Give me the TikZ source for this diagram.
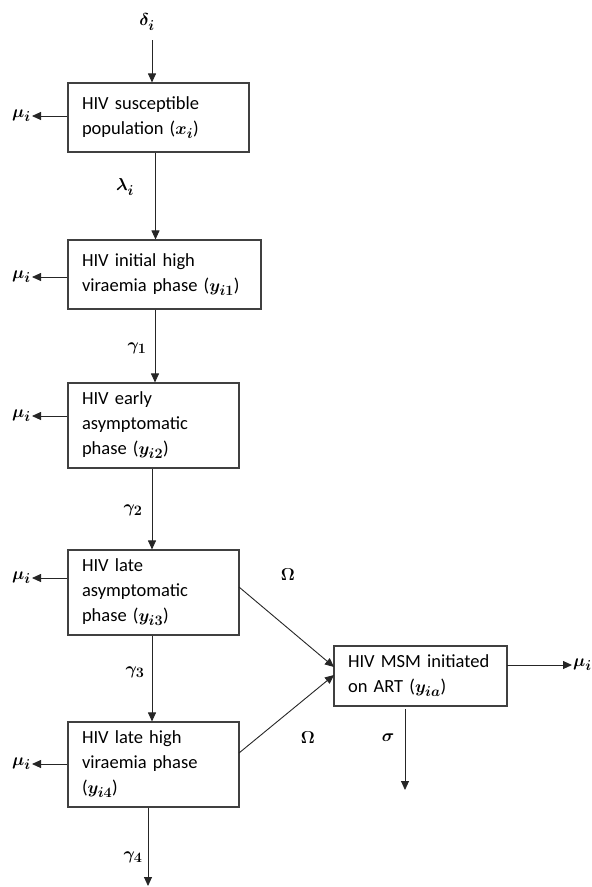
\documentclass[tikz,border=0pt]{standalone}
\usepackage{fontspec}
\usepackage{amsmath}
\usepackage{bm}
\setmainfont{Carlito}
\DeclareMathSizes{18.5}{18.5}{14.5}{11}
\DeclareMathSizes{19}{19}{15}{11}
\usetikzlibrary{arrows.meta}
\begin{document}
\begin{tikzpicture}[x=1pt,y=-1pt,
  box/.style={draw=black!75,line width=1.1pt,rectangle,inner xsep=14pt,inner ysep=0pt,
     align=left,font=\fontsize{18.5}{25}\selectfont,anchor=center},
  arr/.style={draw=black!85,line width=0.9pt,-{Triangle[length=9pt,width=8pt]}},
  lab/.style={inner sep=1pt,font=\fontsize{19}{21}\selectfont}]
\useasboundingbox (0,0) rectangle (592,887);
% boxes
\node[box,minimum width=181pt,minimum height=69pt,text width=153pt] (b1) at (158.5,117.5)
  {HIV susceptible\\population ($\bm{x_i}$)};
\node[box,minimum width=193pt,minimum height=69pt,text width=165pt] (b2) at (164.5,274.5)
  {HIV initial high\\viraemia phase ($\bm{y_{i1}}$)};
\node[box,minimum width=171pt,minimum height=85pt,text width=143pt] (b3) at (153.5,425.5)
  {HIV early\\asymptomatic\\phase ($\bm{y_{i2}}$)};
\node[box,minimum width=171pt,minimum height=85pt,text width=143pt] (b4) at (153.5,592.5)
  {HIV late\\asymptomatic\\phase ($\bm{y_{i3}}$)};
\node[box,minimum width=171pt,minimum height=85pt,text width=143pt] (b5) at (153.5,764.5)
  {HIV late high\\viraemia phase\\($\bm{y_{i4}}$)};
\node[box,minimum width=173pt,minimum height=60pt,text width=145pt] (art) at (420.5,676)
  {HIV MSM initiated\\on ART ($\bm{y_{ia}}$)};
% rate labels
\node[lab] (delta) at (147,22) {$\bm{\delta_i}$};
\node[lab] (lam) at (125,187) {$\bm{\lambda_i}$};
\node[lab] (g1) at (137,348) {$\bm{\gamma_1}$};
\node[lab] (g2) at (133,510) {$\bm{\gamma_2}$};
\node[lab] (g3) at (135,672) {$\bm{\gamma_3}$};
\node[lab] (g4) at (133,857) {$\bm{\gamma_4}$};
\node[lab] (om1) at (288,575) {$\bm{\Omega}$};
\node[lab] (om2) at (308,738) {$\bm{\Omega}$};
\node[lab] (sig) at (388,738) {$\bm{\sigma}$};
% mu labels
\node[lab,anchor=east] (m1) at (32,116) {$\bm{\mu_i}$};
\node[lab,anchor=east] (m2) at (32,277) {$\bm{\mu_i}$};
\node[lab,anchor=east] (m3) at (32,416) {$\bm{\mu_i}$};
\node[lab,anchor=east] (m4) at (32,578) {$\bm{\mu_i}$};
\node[lab,anchor=east] (m5) at (32,764) {$\bm{\mu_i}$};
\node[lab,anchor=west] (m6) at (572,665) {$\bm{\mu_i}$};
% coordinates
\coordinate (dtop) at (152,40);
\coordinate (x1) at (155.5,0);
\coordinate (x2) at (155,0);
\coordinate (x3) at (152,0);
\coordinate (g4end) at (148,886);
\coordinate (o1s) at (239,587);
\coordinate (o1e) at (334,667);
\coordinate (o2s) at (239,753);
\coordinate (o2e) at (334,675);
\coordinate (sigs) at (405,709);
\coordinate (sige) at (405,790);
\coordinate (artr) at (507,665);
% connectors
\draw[arr] (dtop) -- (b1.north -| dtop);
\draw[arr] (b1.south -| x1) -- (b2.north -| x1);
\draw[arr] (b2.south -| x2) -- (b3.north -| x2);
\draw[arr] (b3.south -| x3) -- (b4.north -| x3);
\draw[arr] (b4.south -| x3) -- (b5.north -| x3);
\draw[arr] (b5.south -| g4end) -- (g4end);
\draw[arr] (m1.east -| b1.west) -- (m1.east);
\draw[arr] (m2.east -| b2.west) -- (m2.east);
\draw[arr] (m3.east -| b3.west) -- (m3.east);
\draw[arr] (m4.east -| b4.west) -- (m4.east);
\draw[arr] (m5.east -| b5.west) -- (m5.east);
\draw[arr] (o1s) -- (o1e);
\draw[arr] (o2s) -- (o2e);
\draw[arr] (artr) -- (m6.west);
\draw[arr] (sigs) -- (sige);
\end{tikzpicture}
\end{document}
